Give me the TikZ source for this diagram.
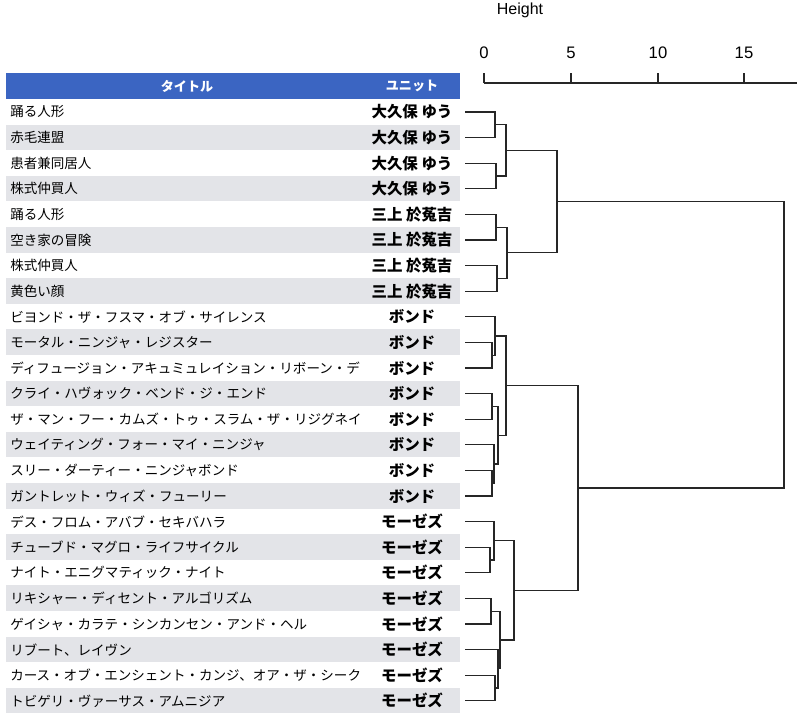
\documentclass[tikz,border=0pt]{standalone}
\usepackage{fontspec}
\setmainfont{Liberation Sans}
\newfontfamily\jp{Noto Sans CJK JP}
\usetikzlibrary{calc}
\definecolor{hdr}{HTML}{3B65C2}
\definecolor{band}{HTML}{E3E4E8}
\newcommand\mrg[4]{\path let \p1=(#2), \p2=(#3) in coordinate (#1) at ({#4*0.75pt},{0.5*(\y1+\y2)});
  \draw[dline] (#2) -| (#1) |- (#3);}
\begin{document}
\begin{tikzpicture}[x=0.75pt,y=-0.75pt,
  dline/.style={line width=0.8pt,black!85},
  ttl/.style={anchor=west,font=\jp\fontsize{10.15}{12}\selectfont,inner sep=0pt},
  unit/.style={font=\jp\bfseries\fontsize{11.6}{13}\selectfont,inner sep=0pt},
  tick/.style={font=\fontsize{12.5}{14}\selectfont}]
\useasboundingbox (0,0) rectangle (800,718);
\fill[white] (0,0) rectangle (800,718);
% header
\fill[hdr] (6,73) rectangle (460,99);
\node[font=\jp\bfseries\fontsize{9.8}{11}\selectfont,text=white] (h1) at (187,86) {タイトル};
\node[font=\jp\bfseries\fontsize{9.8}{11}\selectfont,text=white] (h2) at (412,86) {ユニット};
\foreach \i in {2,4,...,24} {\fill[band] (6,{99+25.6*(\i-1)}) rectangle (460,{99+25.6*\i});}
\foreach \t/\u [count=\i] in {
踊る人形/大久保 ゆう,赤毛連盟/大久保 ゆう,患者兼同居人/大久保 ゆう,株式仲買人/大久保 ゆう,
踊る人形/三上 於菟吉,空き家の冒険/三上 於菟吉,株式仲買人/三上 於菟吉,黄色い顔/三上 於菟吉,
ビヨンド・ザ・フスマ・オブ・サイレンス/ボンド,モータル・ニンジャ・レジスター/ボンド,
ディフュージョン・アキュミュレイション・リボーン・デ/ボンド,クライ・ハヴォック・ベンド・ジ・エンド/ボンド,
ザ・マン・フー・カムズ・トゥ・スラム・ザ・リジグネイ/ボンド,ウェイティング・フォー・マイ・ニンジャ/ボンド,
スリー・ダーティー・ニンジャボンド/ボンド,ガントレット・ウィズ・フューリー/ボンド,
デス・フロム・アバブ・セキバハラ/モーゼズ,チューブド・マグロ・ライフサイクル/モーゼズ,
ナイト・エニグマティック・ナイト/モーゼズ,リキシャー・ディセント・アルゴリズム/モーゼズ,
ゲイシャ・カラテ・シンカンセン・アンド・ヘル/モーゼズ,リブート、レイヴン/モーゼズ,
カース・オブ・エンシェント・カンジ、オア・ザ・シーク/モーゼズ,トビゲリ・ヴァーサス・アムニジア/モーゼズ} {
  \node[ttl] (t\i) at (10,{112+25.6*(\i-1)}) {\t};
  \node[unit] (u\i) at (412,{112+25.6*(\i-1)}) {\u};
  \coordinate (L\i) at (465,{112+25.6*(\i-1)});
}
% axis
\node[font=\fontsize{12}{14}\selectfont] (ht) at (520,10) {Height};
\coordinate (ax0) at (484,83); \coordinate (ax1) at (797,83);
\draw[dline] (ax0) -- (ax1);
\foreach \v/\xx in {0/484,5/571,10/658,15/744} {
  \draw[dline] (\xx,83) -- (\xx,73);
  \node[tick] (k\v) at (\xx,53) {\v};
}
% dendrogram
\mrg{a12}{L1}{L2}{495} \mrg{a34}{L3}{L4}{496} \mrg{b1}{a12}{a34}{506}
\mrg{a56}{L5}{L6}{496} \mrg{a78}{L7}{L8}{497} \mrg{b2}{a56}{a78}{507}
\mrg{T1}{b1}{b2}{557}
\mrg{c1011}{L10}{L11}{492} \mrg{c9}{L9}{c1011}{495}
\mrg{c1213}{L12}{L13}{492} \mrg{c1516}{L15}{L16}{492} \mrg{c14}{L14}{c1516}{494}
\mrg{c2}{c1213}{c14}{498} \mrg{B}{c9}{c2}{506}
\mrg{d1819}{L18}{L19}{490} \mrg{d17}{L17}{d1819}{494}
\mrg{d2021}{L20}{L21}{491} \mrg{d2324}{L23}{L24}{495} \mrg{d22}{L22}{d2324}{498}
\mrg{d3}{d2021}{d22}{500} \mrg{M}{d17}{d3}{514}
\mrg{T2}{B}{M}{578}
\mrg{R}{T1}{T2}{784}
\end{tikzpicture}
\end{document}
